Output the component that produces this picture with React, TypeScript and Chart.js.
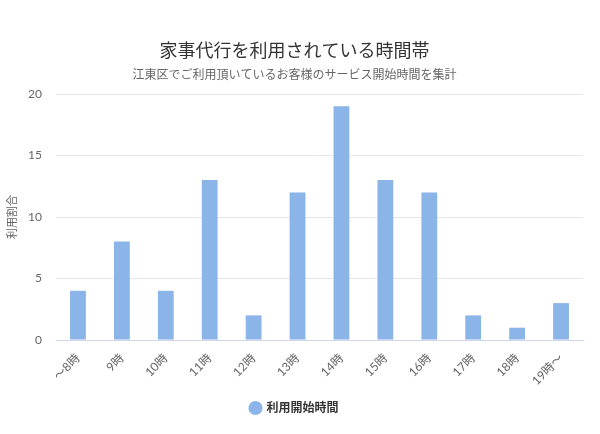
import React, { useEffect, useRef } from "react";
import { Chart, registerables } from "chart.js";

Chart.register(...registerables);

const categories = ["〜8時", "9時", "10時", "11時", "12時", "13時", "14時", "15時", "16時", "17時", "18時", "19時〜"];
const values = [4, 8, 4, 13, 2, 12, 19, 13, 12, 2, 1, 3];
const seriesName = "利用開始時間";
const titleText = "家事代行を利用されている時間帯";
const subtitleText = "江東区でご利用頂いているお客様のサービス開始時間を集計";
const yAxisTitle = "利用割合";

const FONT = "Lato, 'Noto Sans CJK JP', sans-serif";

export default function App() {
  const ref = useRef<HTMLCanvasElement>(null);
  useEffect(() => {
    if (!ref.current) return;
    const chart = new Chart(ref.current, {
      type: "bar",
      data: {
        labels: categories,
        datasets: [
          {
            label: seriesName,
            data: values,
            backgroundColor: "#8bb4e8",
            barPercentage: 0.45,
            categoryPercentage: 0.8,
          },
        ],
      },
      options: {
        animation: false,
        responsive: false,
        layout: { padding: { left: 6, right: 17, top: 40, bottom: 10 } },
        plugins: {
          title: {
            display: true,
            text: titleText,
            color: "#333333",
            font: { family: FONT, size: 18, weight: "normal" },
            padding: { top: 0, bottom: 6 },
          },
          subtitle: {
            display: true,
            text: subtitleText,
            color: "#666666",
            font: { family: FONT, size: 12 },
            padding: { bottom: 12 },
          },
          legend: {
            position: "bottom",
            labels: {
              usePointStyle: true,
              pointStyle: "circle",
              boxWidth: 10,
              boxHeight: 10,
              color: "#333333",
              font: { family: FONT, size: 12, weight: "bold" },
              padding: 11,
            },
          },
          tooltip: { enabled: false },
        },
        scales: {
          x: {
            grid: { display: false },
            border: { color: "#ccd6eb" },
            afterFit: (scale: any) => {
              scale.paddingLeft = 0;
            },
            ticks: {
              color: "#666666",
              font: { family: FONT, size: 12 },
              maxRotation: 45,
              minRotation: 45,
            },
          },
          y: {
            min: 0,
            max: 20,
            afterFit: (scale: any) => {
              scale.width = 50;
            },
            ticks: { stepSize: 5, color: "#666666", font: { family: FONT, size: 12 }, padding: 14 },
            grid: { color: "#e6e6e6", drawTicks: false },
            border: { display: false },
            title: {
              display: true,
              text: yAxisTitle,
              color: "#666666",
              font: { family: FONT, size: 11 },
              padding: { top: 0, bottom: 9 },
            },
          },
        },
      },
    });
    return () => chart.destroy();
  }, []);
  return <canvas ref={ref} width={600} height={434} style={{ display: "block", position: "absolute", left: 0, top: 0 }} />;
}
